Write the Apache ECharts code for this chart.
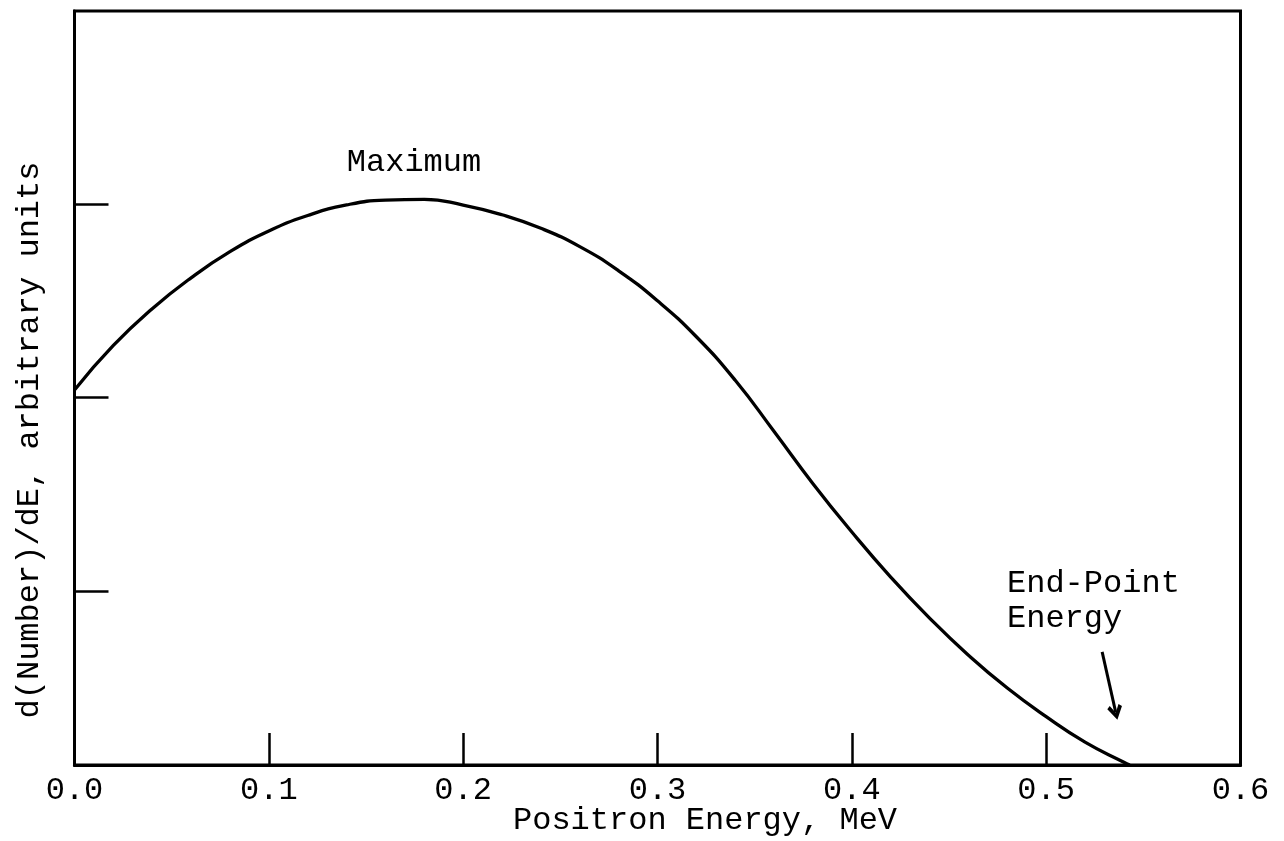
<!DOCTYPE html>
<html>
<head>
<meta charset="utf-8">
<script src="https://cdn.jsdelivr.net/npm/echarts@6/dist/echarts.min.js"></script>
<style>html,body{margin:0;padding:0;background:#fff;}#c{width:1284px;height:841px;}</style>
</head>
<body>
<div id="c"></div>
<script>
// Positron energy (MeV)
const energy = [0.00, 0.02, 0.04, 0.06, 0.08, 0.10, 0.12, 0.14, 0.16, 0.18, 0.20, 0.22, 0.24, 0.26, 0.28, 0.30, 0.32, 0.34, 0.36, 0.38, 0.40, 0.42, 0.44, 0.46, 0.48, 0.50, 0.52, 0.54, 0.543];
// d(Number)/dE, arbitrary units
const intensity = [1.94, 2.17, 2.36, 2.52, 2.655, 2.762, 2.842, 2.897, 2.922, 2.926, 2.896, 2.846, 2.776, 2.681, 2.556, 2.401, 2.215, 1.99, 1.725, 1.455, 1.205, 0.972, 0.76, 0.568, 0.398, 0.25, 0.118, 0.014, 0.0];
const xTicks = [0.0, 0.1, 0.2, 0.3, 0.4, 0.5, 0.6];
const yTicks = [0.9, 1.9, 2.9];
const arrowFrom = [0.5288, 0.585];
const arrowTo = [0.5358, 0.272];

const FONT = '"Liberation Mono", "DejaVu Sans Mono", monospace';
const chart = echarts.init(document.getElementById('c'));
const points = energy.map((e, i) => [e, intensity[i]]);

chart.setOption({
  backgroundColor: '#ffffff',
  animation: false,
  grid: { left: 74.5, right: 43.5, top: 11, bottom: 76, show: true, borderColor: '#000', borderWidth: 3, backgroundColor: 'transparent' },
  xAxis: {
    type: 'value', min: xTicks[0], max: xTicks[xTicks.length - 1], interval: 0.1,
    axisLine: { show: true, lineStyle: { color: '#000', width: 3 } },
    axisTick: { show: true, inside: true, length: 32, lineStyle: { color: '#000', width: 2.5 } },
    axisLabel: { show: true, color: '#000', fontFamily: FONT, fontSize: 32, margin: 10,
      formatter: v => v.toFixed(1) },
    splitLine: { show: false }
  },
  yAxis: {
    type: 'value', min: 0, max: 3.9,
    axisLine: { show: true, lineStyle: { color: '#000', width: 3 } },
    axisTick: { show: true, inside: true, length: 34, customValues: yTicks, lineStyle: { color: '#000', width: 2.5 } },
    axisLabel: { show: false },
    splitLine: { show: false }
  },
  series: [{
    type: 'line', data: points, smooth: 0.5, showSymbol: false, silent: true,
    lineStyle: { color: '#000', width: 3.3 },
    markLine: {
      silent: true, animation: false,
      symbol: ['none', 'path://M5,0 L10,8 L8,9.6 L5,4.6 L2,9.6 L0,8 Z'],
      symbolSize: [15, 15],
      label: { show: false },
      lineStyle: { color: '#000', width: 3, type: 'solid' },
      data: [[{ coord: arrowFrom }, { coord: arrowTo }]]
    }
  }],
  graphic: [
    { type: 'text', x: 414, y: 163, style: { text: 'Maximum', font: '32px ' + FONT, fill: '#000', align: 'center', verticalAlign: 'middle' } },
    { type: 'text', x: 1007, y: 584, style: { text: 'End-Point', font: '32px ' + FONT, fill: '#000', align: 'left', verticalAlign: 'middle' } },
    { type: 'text', x: 1007, y: 619, style: { text: 'Energy', font: '32px ' + FONT, fill: '#000', align: 'left', verticalAlign: 'middle' } },
    { type: 'text', x: 705, y: 821, style: { text: 'Positron Energy, MeV', font: '32px ' + FONT, fill: '#000', align: 'center', verticalAlign: 'middle' } },
    { type: 'text', x: 30, y: 440, rotation: Math.PI / 2, style: { text: 'd(Number)/dE, arbitrary units', font: '32px ' + FONT, fill: '#000', align: 'center', verticalAlign: 'middle' } }
  ]
});
</script>
</body>
</html>
